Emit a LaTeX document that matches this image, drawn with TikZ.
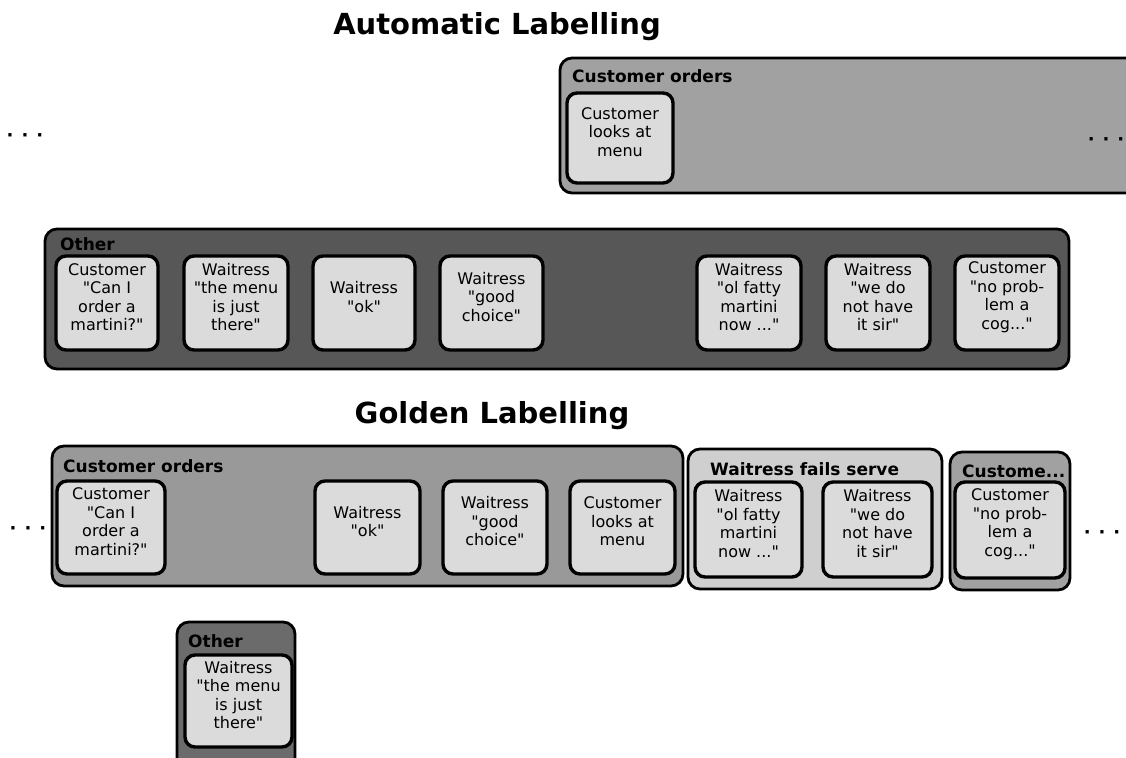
\documentclass[tikz,border=0pt]{standalone}
\usepackage{fontspec}
\setmainfont{DejaVu Sans}
\usetikzlibrary{fit}
\definecolor{cardfill}{gray}{0.86}
\definecolor{midgrp}{gray}{0.63}
\definecolor{darkgrp}{gray}{0.34}
\definecolor{lightgrp}{gray}{0.81}
\definecolor{otherlow}{gray}{0.42}
\tikzset{
  grp/.style={draw=black, line width=2.8pt, rounded corners=12pt, inner sep=0pt},
  card/.style={draw=black, line width=3.4pt, rounded corners=10pt, fill=cardfill,
    align=center, inner sep=0pt, font=\fontsize{16}{18.5}\selectfont},
  glabel/.style={anchor=base west, inner sep=0pt, font=\fontsize{17}{20}\bfseries\selectfont},
  heading/.style={anchor=base, inner sep=0pt, font=\fontsize{29}{34}\bfseries\selectfont},
  dots/.style={inner sep=0pt, font=\fontsize{18}{20}\bfseries\selectfont}
}
\newcommand\moredots{·\hspace{8pt}·\hspace{8pt}·}
\newcommand\q{\textquotedbl}
\begin{document}
\begin{tikzpicture}[x=1pt, y=-1pt]
\clip (0,0) rectangle (1126,757);
\fill[white] (0,0) rectangle (1126,757);

% ---------- Automatic labelling ----------
\node[heading] (tAuto) at (497,35) {Automatic Labelling};

\node[dots] (dA) at (25,138) {\moredots};

\node[grp, fill=midgrp, fit={(560,58) (1150,193)}] (aCO) {};
\node[glabel] (aCOl) at (572,83) {Customer orders};
\node[card, fit={(567,93) (673,183)}] (aCO1) {Customer\\looks at\\menu};
\node[dots] (dAR) at (1106,142) {\moredots};

\node[grp, fill=darkgrp, fit={(45,229) (1069,369)}] (aOT) {};
\node[glabel] (aOTl) at (60,250) {Other};
\node[card, fit={(56,256) (158,350)}] (aOT1) {Customer\\\q Can I\\order a\\martini?\q};
\node[card, fit={(184,256) (288,350)}] (aOT2) {Waitress\\\q the menu\\is just\\there\q};
\node[card, fit={(313,256) (415,350)}] (aOT3) {Waitress\\\q ok\q};
\node[card, fit={(440,256) (543,350)}] (aOT4) {Waitress\\\q good\\choice\q};
\node[card, fit={(697,256) (801,350)}] (aOT5) {Waitress\\\q ol fatty\\martini\\now ...\q};
\node[card, fit={(826,256) (930,350)}] (aOT6) {Waitress\\\q we do\\not have\\it sir\q};
\node[card, fit={(955,256) (1059,350)}] (aOT7) {Customer\\\q no prob-\\lem a\\cog...\q};

% ---------- Golden labelling ----------
\node[heading] (tGold) at (492,423) {Golden Labelling};

\node[dots] (dGL) at (28,531) {\moredots};

\node[grp, fill=midgrp!95!black, fit={(52,446) (683,586)}] (gCO) {};
\node[glabel] (gCOl) at (63,472) {Customer orders};
\node[card, fit={(57,481) (165,574)}] (gCO1) {Customer\\\q Can I\\order a\\martini?\q};
\node[card, fit={(315,481) (420,574)}] (gCO2) {Waitress\\\q ok\q};
\node[card, fit={(443,481) (547,574)}] (gCO3) {Waitress\\\q good\\choice\q};
\node[card, fit={(570,481) (675,574)}] (gCO4) {Customer\\looks at\\menu};

\node[grp, fill=lightgrp, fit={(688,449) (942,589)}] (gWF) {};
\node[glabel] (gWFl) at (710,475) {Waitress fails serve};
\node[card, fit={(695,482) (802,577)}] (gWF1) {Waitress\\\q ol fatty\\martini\\now ...\q};
\node[card, fit={(823,482) (932,577)}] (gWF2) {Waitress\\\q we do\\not have\\it sir\q};

\node[grp, fill=midgrp, fit={(950,452) (1070,590)}] (gCU) {};
\node[glabel] (gCUl) at (962,477) {Custome...};
\node[card, fit={(955,482) (1065,578)}] (gCU1) {Customer\\\q no prob-\\lem a\\cog...\q};

\node[dots] (dGR) at (1102,535) {\moredots};

\node[grp, fill=otherlow, fit={(177,622) (295,775)}] (gOT) {};
\node[glabel] (gOTl) at (188,647) {Other};
\node[card, fit={(185,655) (292,747)}] (gOT1) {Waitress\\\q the menu\\is just\\there\q};
\end{tikzpicture}
\end{document}
